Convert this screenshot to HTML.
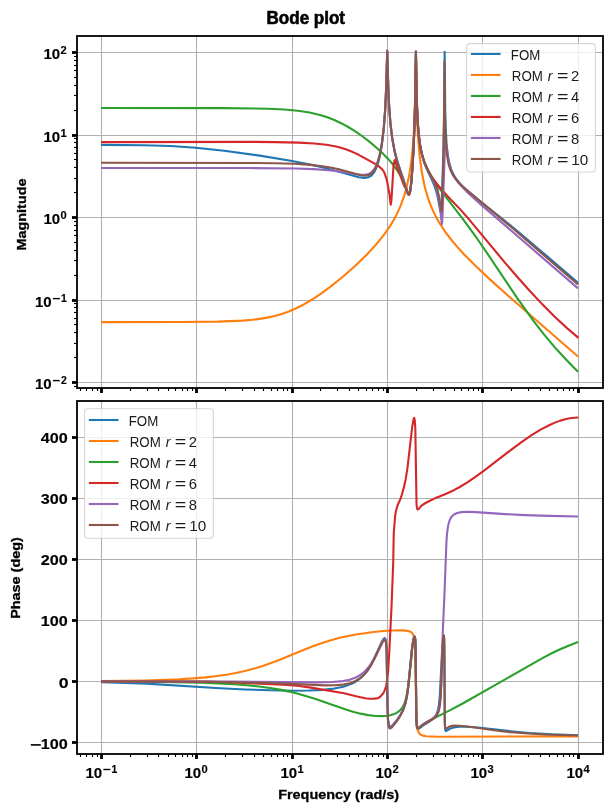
<!DOCTYPE html><html><head><meta charset="utf-8"><style>html,body{margin:0;padding:0;background:#fff;}svg{display:block;will-change:transform;}</style></head><body><svg width="611" height="811" viewBox="0 0 611 811">
<rect width="611" height="811" fill="#fff"/>
<text x="305.8" y="23.8" font-size="17.6" font-weight="bold" text-anchor="middle" font-family='"Liberation Sans", sans-serif' fill="#000" stroke="#000" stroke-width="0.6" textLength="78.5" lengthAdjust="spacingAndGlyphs">Bode plot</text>
<g>
<line x1="77" y1="382.50" x2="603" y2="382.50" stroke="#b0b0b0" stroke-width="1.1"/>
<line x1="77" y1="300.50" x2="603" y2="300.50" stroke="#b0b0b0" stroke-width="1.1"/>
<line x1="77" y1="217.50" x2="603" y2="217.50" stroke="#b0b0b0" stroke-width="1.1"/>
<line x1="77" y1="135.50" x2="603" y2="135.50" stroke="#b0b0b0" stroke-width="1.1"/>
<line x1="77" y1="52.50" x2="603" y2="52.50" stroke="#b0b0b0" stroke-width="1.1"/>
<line x1="101.50" y1="36" x2="101.50" y2="388" stroke="#b0b0b0" stroke-width="1.1"/>
<line x1="196.50" y1="36" x2="196.50" y2="388" stroke="#b0b0b0" stroke-width="1.1"/>
<line x1="292.50" y1="36" x2="292.50" y2="388" stroke="#b0b0b0" stroke-width="1.1"/>
<line x1="387.50" y1="36" x2="387.50" y2="388" stroke="#b0b0b0" stroke-width="1.1"/>
<line x1="482.50" y1="36" x2="482.50" y2="388" stroke="#b0b0b0" stroke-width="1.1"/>
<line x1="578.50" y1="36" x2="578.50" y2="388" stroke="#b0b0b0" stroke-width="1.1"/>
<line x1="80.50" y1="388" x2="80.50" y2="391" stroke="#000" stroke-width="1.1"/>
<line x1="86.50" y1="388" x2="86.50" y2="391" stroke="#000" stroke-width="1.1"/>
<line x1="92.50" y1="388" x2="92.50" y2="391" stroke="#000" stroke-width="1.1"/>
<line x1="97.50" y1="388" x2="97.50" y2="391" stroke="#000" stroke-width="1.1"/>
<line x1="101.50" y1="388" x2="101.50" y2="393" stroke="#000" stroke-width="2.8"/>
<line x1="130.50" y1="388" x2="130.50" y2="391" stroke="#000" stroke-width="1.1"/>
<line x1="147.50" y1="388" x2="147.50" y2="391" stroke="#000" stroke-width="1.1"/>
<line x1="158.50" y1="388" x2="158.50" y2="391" stroke="#000" stroke-width="1.1"/>
<line x1="168.50" y1="388" x2="168.50" y2="391" stroke="#000" stroke-width="1.1"/>
<line x1="175.50" y1="388" x2="175.50" y2="391" stroke="#000" stroke-width="1.1"/>
<line x1="182.50" y1="388" x2="182.50" y2="391" stroke="#000" stroke-width="1.1"/>
<line x1="187.50" y1="388" x2="187.50" y2="391" stroke="#000" stroke-width="1.1"/>
<line x1="192.50" y1="388" x2="192.50" y2="391" stroke="#000" stroke-width="1.1"/>
<line x1="196.50" y1="388" x2="196.50" y2="393" stroke="#000" stroke-width="2.8"/>
<line x1="225.50" y1="388" x2="225.50" y2="391" stroke="#000" stroke-width="1.1"/>
<line x1="242.50" y1="388" x2="242.50" y2="391" stroke="#000" stroke-width="1.1"/>
<line x1="254.50" y1="388" x2="254.50" y2="391" stroke="#000" stroke-width="1.1"/>
<line x1="263.50" y1="388" x2="263.50" y2="391" stroke="#000" stroke-width="1.1"/>
<line x1="271.50" y1="388" x2="271.50" y2="391" stroke="#000" stroke-width="1.1"/>
<line x1="277.50" y1="388" x2="277.50" y2="391" stroke="#000" stroke-width="1.1"/>
<line x1="283.50" y1="388" x2="283.50" y2="391" stroke="#000" stroke-width="1.1"/>
<line x1="287.50" y1="388" x2="287.50" y2="391" stroke="#000" stroke-width="1.1"/>
<line x1="292.50" y1="388" x2="292.50" y2="393" stroke="#000" stroke-width="2.8"/>
<line x1="320.50" y1="388" x2="320.50" y2="391" stroke="#000" stroke-width="1.1"/>
<line x1="337.50" y1="388" x2="337.50" y2="391" stroke="#000" stroke-width="1.1"/>
<line x1="349.50" y1="388" x2="349.50" y2="391" stroke="#000" stroke-width="1.1"/>
<line x1="358.50" y1="388" x2="358.50" y2="391" stroke="#000" stroke-width="1.1"/>
<line x1="366.50" y1="388" x2="366.50" y2="391" stroke="#000" stroke-width="1.1"/>
<line x1="372.50" y1="388" x2="372.50" y2="391" stroke="#000" stroke-width="1.1"/>
<line x1="378.50" y1="388" x2="378.50" y2="391" stroke="#000" stroke-width="1.1"/>
<line x1="383.50" y1="388" x2="383.50" y2="391" stroke="#000" stroke-width="1.1"/>
<line x1="387.50" y1="388" x2="387.50" y2="393" stroke="#000" stroke-width="2.8"/>
<line x1="416.50" y1="388" x2="416.50" y2="391" stroke="#000" stroke-width="1.1"/>
<line x1="433.50" y1="388" x2="433.50" y2="391" stroke="#000" stroke-width="1.1"/>
<line x1="445.50" y1="388" x2="445.50" y2="391" stroke="#000" stroke-width="1.1"/>
<line x1="454.50" y1="388" x2="454.50" y2="391" stroke="#000" stroke-width="1.1"/>
<line x1="461.50" y1="388" x2="461.50" y2="391" stroke="#000" stroke-width="1.1"/>
<line x1="468.50" y1="388" x2="468.50" y2="391" stroke="#000" stroke-width="1.1"/>
<line x1="473.50" y1="388" x2="473.50" y2="391" stroke="#000" stroke-width="1.1"/>
<line x1="478.50" y1="388" x2="478.50" y2="391" stroke="#000" stroke-width="1.1"/>
<line x1="482.50" y1="388" x2="482.50" y2="393" stroke="#000" stroke-width="2.8"/>
<line x1="511.50" y1="388" x2="511.50" y2="391" stroke="#000" stroke-width="1.1"/>
<line x1="528.50" y1="388" x2="528.50" y2="391" stroke="#000" stroke-width="1.1"/>
<line x1="540.50" y1="388" x2="540.50" y2="391" stroke="#000" stroke-width="1.1"/>
<line x1="549.50" y1="388" x2="549.50" y2="391" stroke="#000" stroke-width="1.1"/>
<line x1="557.50" y1="388" x2="557.50" y2="391" stroke="#000" stroke-width="1.1"/>
<line x1="563.50" y1="388" x2="563.50" y2="391" stroke="#000" stroke-width="1.1"/>
<line x1="569.50" y1="388" x2="569.50" y2="391" stroke="#000" stroke-width="1.1"/>
<line x1="573.50" y1="388" x2="573.50" y2="391" stroke="#000" stroke-width="1.1"/>
<line x1="578.50" y1="388" x2="578.50" y2="393" stroke="#000" stroke-width="2.8"/>
<line x1="74" y1="386.50" x2="77" y2="386.50" stroke="#000" stroke-width="1.1"/>
<line x1="72" y1="382.50" x2="77" y2="382.50" stroke="#000" stroke-width="2.8"/>
<line x1="74" y1="357.50" x2="77" y2="357.50" stroke="#000" stroke-width="1.1"/>
<line x1="74" y1="343.50" x2="77" y2="343.50" stroke="#000" stroke-width="1.1"/>
<line x1="74" y1="332.50" x2="77" y2="332.50" stroke="#000" stroke-width="1.1"/>
<line x1="74" y1="324.50" x2="77" y2="324.50" stroke="#000" stroke-width="1.1"/>
<line x1="74" y1="318.50" x2="77" y2="318.50" stroke="#000" stroke-width="1.1"/>
<line x1="74" y1="312.50" x2="77" y2="312.50" stroke="#000" stroke-width="1.1"/>
<line x1="74" y1="307.50" x2="77" y2="307.50" stroke="#000" stroke-width="1.1"/>
<line x1="74" y1="303.50" x2="77" y2="303.50" stroke="#000" stroke-width="1.1"/>
<line x1="72" y1="300.50" x2="77" y2="300.50" stroke="#000" stroke-width="2.8"/>
<line x1="74" y1="275.50" x2="77" y2="275.50" stroke="#000" stroke-width="1.1"/>
<line x1="74" y1="260.50" x2="77" y2="260.50" stroke="#000" stroke-width="1.1"/>
<line x1="74" y1="250.50" x2="77" y2="250.50" stroke="#000" stroke-width="1.1"/>
<line x1="74" y1="242.50" x2="77" y2="242.50" stroke="#000" stroke-width="1.1"/>
<line x1="74" y1="235.50" x2="77" y2="235.50" stroke="#000" stroke-width="1.1"/>
<line x1="74" y1="230.50" x2="77" y2="230.50" stroke="#000" stroke-width="1.1"/>
<line x1="74" y1="225.50" x2="77" y2="225.50" stroke="#000" stroke-width="1.1"/>
<line x1="74" y1="221.50" x2="77" y2="221.50" stroke="#000" stroke-width="1.1"/>
<line x1="72" y1="217.50" x2="77" y2="217.50" stroke="#000" stroke-width="2.8"/>
<line x1="74" y1="192.50" x2="77" y2="192.50" stroke="#000" stroke-width="1.1"/>
<line x1="74" y1="178.50" x2="77" y2="178.50" stroke="#000" stroke-width="1.1"/>
<line x1="74" y1="167.50" x2="77" y2="167.50" stroke="#000" stroke-width="1.1"/>
<line x1="74" y1="159.50" x2="77" y2="159.50" stroke="#000" stroke-width="1.1"/>
<line x1="74" y1="153.50" x2="77" y2="153.50" stroke="#000" stroke-width="1.1"/>
<line x1="74" y1="147.50" x2="77" y2="147.50" stroke="#000" stroke-width="1.1"/>
<line x1="74" y1="142.50" x2="77" y2="142.50" stroke="#000" stroke-width="1.1"/>
<line x1="74" y1="138.50" x2="77" y2="138.50" stroke="#000" stroke-width="1.1"/>
<line x1="72" y1="135.50" x2="77" y2="135.50" stroke="#000" stroke-width="2.8"/>
<line x1="74" y1="110.50" x2="77" y2="110.50" stroke="#000" stroke-width="1.1"/>
<line x1="74" y1="95.50" x2="77" y2="95.50" stroke="#000" stroke-width="1.1"/>
<line x1="74" y1="85.50" x2="77" y2="85.50" stroke="#000" stroke-width="1.1"/>
<line x1="74" y1="77.50" x2="77" y2="77.50" stroke="#000" stroke-width="1.1"/>
<line x1="74" y1="70.50" x2="77" y2="70.50" stroke="#000" stroke-width="1.1"/>
<line x1="74" y1="65.50" x2="77" y2="65.50" stroke="#000" stroke-width="1.1"/>
<line x1="74" y1="60.50" x2="77" y2="60.50" stroke="#000" stroke-width="1.1"/>
<line x1="74" y1="56.50" x2="77" y2="56.50" stroke="#000" stroke-width="1.1"/>
<line x1="72" y1="52.50" x2="77" y2="52.50" stroke="#000" stroke-width="2.8"/>
<text x="35.00" y="389.10" font-size="14.2" font-weight="bold" font-family='"Liberation Sans", sans-serif' fill="#000" stroke="#000" stroke-width="0.15" textLength="16.70" lengthAdjust="spacingAndGlyphs">10</text>
<rect x="52.90" y="379.90" width="6.9" height="1.4" fill="#000"/>
<text x="60.90" y="384.30" font-size="11" font-weight="bold" font-family='"Liberation Sans", sans-serif' fill="#000" stroke="#000" stroke-width="0.15" textLength="5.80" lengthAdjust="spacingAndGlyphs">2</text>
<text x="35.00" y="307.10" font-size="14.2" font-weight="bold" font-family='"Liberation Sans", sans-serif' fill="#000" stroke="#000" stroke-width="0.15" textLength="16.70" lengthAdjust="spacingAndGlyphs">10</text>
<rect x="52.90" y="297.90" width="6.9" height="1.4" fill="#000"/>
<text x="60.90" y="302.30" font-size="11" font-weight="bold" font-family='"Liberation Sans", sans-serif' fill="#000" stroke="#000" stroke-width="0.15" textLength="5.80" lengthAdjust="spacingAndGlyphs">1</text>
<text x="43.50" y="224.10" font-size="14.2" font-weight="bold" font-family='"Liberation Sans", sans-serif' fill="#000" stroke="#000" stroke-width="0.15" textLength="16.70" lengthAdjust="spacingAndGlyphs">10</text>
<text x="60.50" y="219.30" font-size="11" font-weight="bold" font-family='"Liberation Sans", sans-serif' fill="#000" stroke="#000" stroke-width="0.15" textLength="6.20" lengthAdjust="spacingAndGlyphs">0</text>
<text x="43.50" y="142.10" font-size="14.2" font-weight="bold" font-family='"Liberation Sans", sans-serif' fill="#000" stroke="#000" stroke-width="0.15" textLength="16.70" lengthAdjust="spacingAndGlyphs">10</text>
<text x="60.50" y="137.30" font-size="11" font-weight="bold" font-family='"Liberation Sans", sans-serif' fill="#000" stroke="#000" stroke-width="0.15" textLength="6.20" lengthAdjust="spacingAndGlyphs">1</text>
<text x="43.50" y="59.10" font-size="14.2" font-weight="bold" font-family='"Liberation Sans", sans-serif' fill="#000" stroke="#000" stroke-width="0.15" textLength="16.70" lengthAdjust="spacingAndGlyphs">10</text>
<text x="60.50" y="54.30" font-size="11" font-weight="bold" font-family='"Liberation Sans", sans-serif' fill="#000" stroke="#000" stroke-width="0.15" textLength="6.20" lengthAdjust="spacingAndGlyphs">2</text>
<text transform="translate(25.7,214.5) rotate(-90)" x="0" y="0" font-size="13.6" font-weight="bold" text-anchor="middle" font-family='"Liberation Sans", sans-serif' fill="#000" stroke="#000" stroke-width="0.3" textLength="72" lengthAdjust="spacingAndGlyphs">Magnitude</text>
</g>
<line x1="77" y1="742.50" x2="603" y2="742.50" stroke="#b0b0b0" stroke-width="1.1"/>
<line x1="77" y1="681.50" x2="603" y2="681.50" stroke="#b0b0b0" stroke-width="1.1"/>
<line x1="77" y1="620.50" x2="603" y2="620.50" stroke="#b0b0b0" stroke-width="1.1"/>
<line x1="77" y1="559.50" x2="603" y2="559.50" stroke="#b0b0b0" stroke-width="1.1"/>
<line x1="77" y1="498.50" x2="603" y2="498.50" stroke="#b0b0b0" stroke-width="1.1"/>
<line x1="77" y1="437.50" x2="603" y2="437.50" stroke="#b0b0b0" stroke-width="1.1"/>
<line x1="101.50" y1="401" x2="101.50" y2="754" stroke="#b0b0b0" stroke-width="1.1"/>
<line x1="196.50" y1="401" x2="196.50" y2="754" stroke="#b0b0b0" stroke-width="1.1"/>
<line x1="292.50" y1="401" x2="292.50" y2="754" stroke="#b0b0b0" stroke-width="1.1"/>
<line x1="387.50" y1="401" x2="387.50" y2="754" stroke="#b0b0b0" stroke-width="1.1"/>
<line x1="482.50" y1="401" x2="482.50" y2="754" stroke="#b0b0b0" stroke-width="1.1"/>
<line x1="578.50" y1="401" x2="578.50" y2="754" stroke="#b0b0b0" stroke-width="1.1"/>
<line x1="80.50" y1="754" x2="80.50" y2="757" stroke="#000" stroke-width="1.1"/>
<line x1="86.50" y1="754" x2="86.50" y2="757" stroke="#000" stroke-width="1.1"/>
<line x1="92.50" y1="754" x2="92.50" y2="757" stroke="#000" stroke-width="1.1"/>
<line x1="97.50" y1="754" x2="97.50" y2="757" stroke="#000" stroke-width="1.1"/>
<line x1="101.50" y1="754" x2="101.50" y2="759" stroke="#000" stroke-width="2.8"/>
<line x1="130.50" y1="754" x2="130.50" y2="757" stroke="#000" stroke-width="1.1"/>
<line x1="147.50" y1="754" x2="147.50" y2="757" stroke="#000" stroke-width="1.1"/>
<line x1="158.50" y1="754" x2="158.50" y2="757" stroke="#000" stroke-width="1.1"/>
<line x1="168.50" y1="754" x2="168.50" y2="757" stroke="#000" stroke-width="1.1"/>
<line x1="175.50" y1="754" x2="175.50" y2="757" stroke="#000" stroke-width="1.1"/>
<line x1="182.50" y1="754" x2="182.50" y2="757" stroke="#000" stroke-width="1.1"/>
<line x1="187.50" y1="754" x2="187.50" y2="757" stroke="#000" stroke-width="1.1"/>
<line x1="192.50" y1="754" x2="192.50" y2="757" stroke="#000" stroke-width="1.1"/>
<line x1="196.50" y1="754" x2="196.50" y2="759" stroke="#000" stroke-width="2.8"/>
<line x1="225.50" y1="754" x2="225.50" y2="757" stroke="#000" stroke-width="1.1"/>
<line x1="242.50" y1="754" x2="242.50" y2="757" stroke="#000" stroke-width="1.1"/>
<line x1="254.50" y1="754" x2="254.50" y2="757" stroke="#000" stroke-width="1.1"/>
<line x1="263.50" y1="754" x2="263.50" y2="757" stroke="#000" stroke-width="1.1"/>
<line x1="271.50" y1="754" x2="271.50" y2="757" stroke="#000" stroke-width="1.1"/>
<line x1="277.50" y1="754" x2="277.50" y2="757" stroke="#000" stroke-width="1.1"/>
<line x1="283.50" y1="754" x2="283.50" y2="757" stroke="#000" stroke-width="1.1"/>
<line x1="287.50" y1="754" x2="287.50" y2="757" stroke="#000" stroke-width="1.1"/>
<line x1="292.50" y1="754" x2="292.50" y2="759" stroke="#000" stroke-width="2.8"/>
<line x1="320.50" y1="754" x2="320.50" y2="757" stroke="#000" stroke-width="1.1"/>
<line x1="337.50" y1="754" x2="337.50" y2="757" stroke="#000" stroke-width="1.1"/>
<line x1="349.50" y1="754" x2="349.50" y2="757" stroke="#000" stroke-width="1.1"/>
<line x1="358.50" y1="754" x2="358.50" y2="757" stroke="#000" stroke-width="1.1"/>
<line x1="366.50" y1="754" x2="366.50" y2="757" stroke="#000" stroke-width="1.1"/>
<line x1="372.50" y1="754" x2="372.50" y2="757" stroke="#000" stroke-width="1.1"/>
<line x1="378.50" y1="754" x2="378.50" y2="757" stroke="#000" stroke-width="1.1"/>
<line x1="383.50" y1="754" x2="383.50" y2="757" stroke="#000" stroke-width="1.1"/>
<line x1="387.50" y1="754" x2="387.50" y2="759" stroke="#000" stroke-width="2.8"/>
<line x1="416.50" y1="754" x2="416.50" y2="757" stroke="#000" stroke-width="1.1"/>
<line x1="433.50" y1="754" x2="433.50" y2="757" stroke="#000" stroke-width="1.1"/>
<line x1="445.50" y1="754" x2="445.50" y2="757" stroke="#000" stroke-width="1.1"/>
<line x1="454.50" y1="754" x2="454.50" y2="757" stroke="#000" stroke-width="1.1"/>
<line x1="461.50" y1="754" x2="461.50" y2="757" stroke="#000" stroke-width="1.1"/>
<line x1="468.50" y1="754" x2="468.50" y2="757" stroke="#000" stroke-width="1.1"/>
<line x1="473.50" y1="754" x2="473.50" y2="757" stroke="#000" stroke-width="1.1"/>
<line x1="478.50" y1="754" x2="478.50" y2="757" stroke="#000" stroke-width="1.1"/>
<line x1="482.50" y1="754" x2="482.50" y2="759" stroke="#000" stroke-width="2.8"/>
<line x1="511.50" y1="754" x2="511.50" y2="757" stroke="#000" stroke-width="1.1"/>
<line x1="528.50" y1="754" x2="528.50" y2="757" stroke="#000" stroke-width="1.1"/>
<line x1="540.50" y1="754" x2="540.50" y2="757" stroke="#000" stroke-width="1.1"/>
<line x1="549.50" y1="754" x2="549.50" y2="757" stroke="#000" stroke-width="1.1"/>
<line x1="557.50" y1="754" x2="557.50" y2="757" stroke="#000" stroke-width="1.1"/>
<line x1="563.50" y1="754" x2="563.50" y2="757" stroke="#000" stroke-width="1.1"/>
<line x1="569.50" y1="754" x2="569.50" y2="757" stroke="#000" stroke-width="1.1"/>
<line x1="573.50" y1="754" x2="573.50" y2="757" stroke="#000" stroke-width="1.1"/>
<line x1="578.50" y1="754" x2="578.50" y2="759" stroke="#000" stroke-width="2.8"/>
<text x="85.50" y="778.00" font-size="14.2" font-weight="bold" font-family='"Liberation Sans", sans-serif' fill="#000" stroke="#000" stroke-width="0.15" textLength="16.70" lengthAdjust="spacingAndGlyphs">10</text>
<rect x="103.40" y="768.80" width="6.9" height="1.4" fill="#000"/>
<text x="111.40" y="773.20" font-size="11" font-weight="bold" font-family='"Liberation Sans", sans-serif' fill="#000" stroke="#000" stroke-width="0.15" textLength="5.80" lengthAdjust="spacingAndGlyphs">1</text>
<text x="184.40" y="778.00" font-size="14.2" font-weight="bold" font-family='"Liberation Sans", sans-serif' fill="#000" stroke="#000" stroke-width="0.15" textLength="16.70" lengthAdjust="spacingAndGlyphs">10</text>
<text x="201.40" y="773.20" font-size="11" font-weight="bold" font-family='"Liberation Sans", sans-serif' fill="#000" stroke="#000" stroke-width="0.15" textLength="6.20" lengthAdjust="spacingAndGlyphs">0</text>
<text x="280.40" y="778.00" font-size="14.2" font-weight="bold" font-family='"Liberation Sans", sans-serif' fill="#000" stroke="#000" stroke-width="0.15" textLength="16.70" lengthAdjust="spacingAndGlyphs">10</text>
<text x="297.40" y="773.20" font-size="11" font-weight="bold" font-family='"Liberation Sans", sans-serif' fill="#000" stroke="#000" stroke-width="0.15" textLength="6.20" lengthAdjust="spacingAndGlyphs">1</text>
<text x="375.40" y="778.00" font-size="14.2" font-weight="bold" font-family='"Liberation Sans", sans-serif' fill="#000" stroke="#000" stroke-width="0.15" textLength="16.70" lengthAdjust="spacingAndGlyphs">10</text>
<text x="392.40" y="773.20" font-size="11" font-weight="bold" font-family='"Liberation Sans", sans-serif' fill="#000" stroke="#000" stroke-width="0.15" textLength="6.20" lengthAdjust="spacingAndGlyphs">2</text>
<text x="470.40" y="778.00" font-size="14.2" font-weight="bold" font-family='"Liberation Sans", sans-serif' fill="#000" stroke="#000" stroke-width="0.15" textLength="16.70" lengthAdjust="spacingAndGlyphs">10</text>
<text x="487.40" y="773.20" font-size="11" font-weight="bold" font-family='"Liberation Sans", sans-serif' fill="#000" stroke="#000" stroke-width="0.15" textLength="6.20" lengthAdjust="spacingAndGlyphs">3</text>
<text x="566.40" y="778.00" font-size="14.2" font-weight="bold" font-family='"Liberation Sans", sans-serif' fill="#000" stroke="#000" stroke-width="0.15" textLength="16.70" lengthAdjust="spacingAndGlyphs">10</text>
<text x="583.40" y="773.20" font-size="11" font-weight="bold" font-family='"Liberation Sans", sans-serif' fill="#000" stroke="#000" stroke-width="0.15" textLength="6.20" lengthAdjust="spacingAndGlyphs">4</text>
<line x1="72" y1="742.50" x2="77" y2="742.50" stroke="#000" stroke-width="2.8"/>
<text x="40.70" y="748.90" font-size="14.2" font-weight="bold" font-family='"Liberation Sans", sans-serif' fill="#000" stroke="#000" stroke-width="0.15" textLength="27.00" lengthAdjust="spacingAndGlyphs">100</text>
<rect x="30.8" y="744.10" width="10" height="1.6" fill="#000"/>
<line x1="72" y1="681.50" x2="77" y2="681.50" stroke="#000" stroke-width="2.8"/>
<text x="58.80" y="687.60" font-size="14.2" font-weight="bold" font-family='"Liberation Sans", sans-serif' fill="#000" stroke="#000" stroke-width="0.15" textLength="9.80" lengthAdjust="spacingAndGlyphs">0</text>
<line x1="72" y1="620.50" x2="77" y2="620.50" stroke="#000" stroke-width="2.8"/>
<text x="40.70" y="625.80" font-size="14.2" font-weight="bold" font-family='"Liberation Sans", sans-serif' fill="#000" stroke="#000" stroke-width="0.15" textLength="27.00" lengthAdjust="spacingAndGlyphs">100</text>
<line x1="72" y1="559.50" x2="77" y2="559.50" stroke="#000" stroke-width="2.8"/>
<text x="40.70" y="564.80" font-size="14.2" font-weight="bold" font-family='"Liberation Sans", sans-serif' fill="#000" stroke="#000" stroke-width="0.15" textLength="27.00" lengthAdjust="spacingAndGlyphs">200</text>
<line x1="72" y1="498.50" x2="77" y2="498.50" stroke="#000" stroke-width="2.8"/>
<text x="40.70" y="503.80" font-size="14.2" font-weight="bold" font-family='"Liberation Sans", sans-serif' fill="#000" stroke="#000" stroke-width="0.15" textLength="27.00" lengthAdjust="spacingAndGlyphs">300</text>
<line x1="72" y1="437.50" x2="77" y2="437.50" stroke="#000" stroke-width="2.8"/>
<text x="40.70" y="442.80" font-size="14.2" font-weight="bold" font-family='"Liberation Sans", sans-serif' fill="#000" stroke="#000" stroke-width="0.15" textLength="27.00" lengthAdjust="spacingAndGlyphs">400</text>
<text transform="translate(20,578) rotate(-90)" x="0" y="0" font-size="13.6" font-weight="bold" text-anchor="middle" font-family='"Liberation Sans", sans-serif' fill="#000" stroke="#000" stroke-width="0.3" textLength="81.5" lengthAdjust="spacingAndGlyphs">Phase (deg)</text>
<text x="338.7" y="798.7" font-size="13.6" font-weight="bold" text-anchor="middle" font-family='"Liberation Sans", sans-serif' fill="#000" stroke="#000" stroke-width="0.3" textLength="121" lengthAdjust="spacingAndGlyphs">Frequency (rad/s)</text>
<clipPath id="ct"><rect x="77" y="36" width="526" height="352"/></clipPath>
<g clip-path="url(#ct)" fill="none" stroke-width="2.1" stroke-linejoin="round" stroke-linecap="butt">
<path d="M101.00,144.90 L143.15,145.21 L170.82,146.03 L195.64,147.72 L224.11,150.76 L259.73,155.60 L292.02,160.96 L308.88,164.29 L323.99,167.71 L335.44,170.65 L358.82,177.19 L364.23,177.91 L366.30,177.79 L368.21,177.35 L370.59,176.15 L372.66,174.24 L374.41,171.77 L376.16,168.25 L377.75,163.87 L379.25,158.47 L380.60,152.15 L381.82,144.98 L383.74,129.06 L385.18,109.79 L386.10,89.34 L387.21,51.27 L388.27,87.27 L389.13,106.07 L390.46,123.60 L392.26,138.20 L394.50,150.26 L397.48,161.56 L407.19,190.63 L408.25,193.06 L408.67,193.58 L409.05,193.68 L409.65,192.88 L410.20,190.83 L411.30,182.49 L412.54,166.80 L413.69,146.65 L415.03,108.31 L415.92,51.49 L416.55,90.81 L417.22,113.00 L418.31,131.05 L419.90,144.93 L421.74,154.38 L424.20,162.70 L426.90,169.40 L433.26,182.89 L435.97,190.18 L437.77,197.14 L440.06,210.18 L440.65,211.92 L440.96,211.12 L441.25,208.75 L441.85,198.46 L443.43,151.01 L444.16,110.99 L444.64,51.74 L445.27,112.18 L445.80,130.16 L446.55,143.59 L447.66,154.34 L449.18,162.77 L451.27,169.67 L454.10,175.63 L456.64,179.50 L459.66,183.21 L463.48,187.17 L468.41,191.66 L476.37,198.23 L502.61,219.04 L518.83,232.35 L542.69,252.48 L578.00,282.81" stroke="#1f77b4"/>
<path d="M101.00,322.10 L181.48,322.02 L217.59,321.64 L242.72,320.60 L252.58,319.75 L261.48,318.60 L270.71,316.90 L279.30,314.71 L287.57,311.95 L295.68,308.56 L303.79,304.47 L312.22,299.51 L320.97,293.69 L330.20,286.90 L342.76,276.76 L355.33,265.68 L366.46,254.92 L376.00,244.65 L383.71,235.20 L390.22,225.87 L395.70,216.41 L400.28,206.59 L404.00,196.44 L406.99,185.74 L409.45,173.86 L411.41,160.61 L412.84,146.57 L413.93,130.46 L415.77,80.32 L416.98,117.19 L417.97,136.84 L419.52,155.40 L421.63,171.25 L424.51,185.69 L426.26,192.32 L428.33,198.92 L430.56,204.97 L433.10,210.94 L435.89,216.63 L438.96,222.18 L445.67,232.49 L453.78,242.92 L463.64,253.94 L475.73,266.10 L489.88,279.36 L508.65,296.20 L578.00,356.57" stroke="#ff7f0e"/>
<path d="M101.00,108.05 L224.27,108.14 L267.85,108.72 L284.23,109.49 L297.75,110.72 L309.52,112.53 L320.02,114.98 L327.33,117.29 L334.33,120.01 L341.17,123.19 L348.17,126.99 L355.33,131.42 L362.64,136.50 L369.96,142.12 L377.12,148.18 L382.96,153.61 L388.13,158.92 L392.58,164.05 L396.35,169.07 L399.10,173.33 L401.51,177.71 L404.00,183.15 L407.55,192.27 L408.29,193.59 L408.91,193.95 L409.52,193.22 L410.08,191.26 L411.20,183.03 L412.44,167.58 L413.62,147.33 L415.00,108.92 L415.92,51.63 L416.95,105.31 L417.69,121.66 L418.70,134.69 L420.13,145.72 L422.03,154.99 L424.51,163.03 L427.85,170.67 L431.99,177.94 L437.37,185.84 L462.37,218.31 L476.68,237.99 L488.29,254.88 L517.08,297.86 L533.47,320.88 L543.96,334.44 L554.62,347.13 L565.75,359.33 L578.00,371.77" stroke="#2ca02c"/>
<path d="M101.00,142.10 L255.06,141.90 L275.09,142.11 L298.78,142.67 L314.35,143.43 L326.53,144.81 L336.08,146.47 L340.93,147.66 L345.77,149.28 L352.31,151.85 L358.73,154.82 L375.61,164.13 L378.75,166.29 L381.76,168.91 L383.33,170.85 L384.38,172.68 L386.87,180.24 L389.36,193.56 L390.70,204.70 L391.19,201.94 L391.84,193.83 L393.41,167.45 L394.07,162.47 L394.72,160.03 L394.98,160.10 L395.38,160.88 L396.95,166.85 L400.22,174.98 L403.23,183.60 L404.40,186.20 L405.90,188.36 L407.81,193.57 L408.47,194.56 L409.12,194.52 L409.78,193.03 L410.30,190.50 L411.21,183.07 L412.13,172.15 L413.96,140.09 L414.93,111.77 L415.67,67.36 L416.06,57.94 L416.45,85.63 L417.11,109.87 L417.94,125.79 L419.20,139.25 L420.77,149.21 L423.00,158.04 L425.47,164.67 L430.30,174.87 L435.87,182.47 L441.44,189.31 L447.39,195.92 L460.01,209.14 L466.33,216.19 L505.33,263.07 L517.59,277.31 L528.73,289.80 L542.10,304.10 L554.73,316.75 L566.99,328.12 L578.50,337.85" stroke="#d62728"/>
<path d="M101.00,168.00 L248.60,168.05 L295.20,168.47 L313.65,169.12 L328.60,170.21 L339.74,171.53 L356.28,174.26 L361.05,174.84 L365.35,174.81 L368.69,173.98 L371.07,172.61 L373.14,170.61 L375.05,167.80 L376.64,164.50 L378.19,160.21 L379.61,155.05 L382.04,142.21 L383.89,126.66 L385.27,107.89 L386.15,87.85 L387.22,50.21 L388.27,86.61 L389.12,105.70 L390.44,123.50 L392.24,138.43 L394.47,150.63 L397.40,161.99 L407.15,191.81 L408.18,194.21 L408.59,194.70 L408.96,194.78 L409.56,193.91 L410.11,191.76 L411.21,183.10 L412.48,166.89 L413.65,146.33 L415.01,108.10 L415.92,51.84 L416.55,90.14 L417.21,111.84 L418.27,129.51 L419.80,143.20 L421.67,152.96 L424.20,161.43 L427.06,168.31 L434.22,182.87 L435.89,187.15 L437.24,191.52 L438.49,196.91 L439.52,203.09 L441.81,224.19 L442.16,222.33 L442.52,215.51 L444.77,152.09 L445.22,144.86 L445.68,142.72 L446.13,144.46 L448.46,160.16 L449.63,165.18 L451.01,169.59 L452.83,173.88 L455.21,178.15 L458.07,182.20 L461.57,186.34 L468.89,193.71 L480.18,203.88 L578.00,288.34" stroke="#9467bd"/>
<path d="M101.00,162.82 L247.17,162.93 L274.69,163.22 L294.41,163.82 L310.63,164.88 L324.31,166.49 L331.79,167.77 L338.94,169.31 L360.73,175.18 L365.35,175.63 L367.25,175.42 L368.85,174.96 L371.07,173.73 L373.14,171.71 L374.89,169.11 L376.64,165.43 L378.18,161.06 L379.59,155.79 L382.04,142.70 L383.88,127.19 L385.26,108.42 L386.13,88.74 L387.23,51.05 L388.29,87.22 L389.15,106.46 L390.48,124.18 L392.29,139.09 L394.59,151.63 L397.64,163.37 L406.95,191.46 L408.06,194.03 L408.50,194.57 L408.91,194.66 L409.52,193.82 L410.08,191.70 L411.21,183.11 L412.48,167.20 L413.65,146.82 L415.01,108.66 L415.92,51.48 L416.55,90.64 L417.23,112.90 L418.34,130.93 L419.95,144.64 L421.90,154.21 L424.51,162.36 L427.38,168.70 L434.38,181.59 L437.10,188.40 L439.12,196.67 L441.37,211.66 L441.60,211.32 L441.82,209.52 L442.24,201.12 L443.39,157.54 L444.00,118.25 L444.43,61.38 L445.02,117.92 L445.48,134.30 L446.15,146.52 L447.12,156.18 L448.46,163.68 L450.31,169.74 L452.83,174.93 L455.05,178.25 L457.76,181.50 L461.10,184.92 L465.39,188.84 L511.20,227.05 L578.00,284.51" stroke="#8c564b"/>
</g>
<clipPath id="cb"><rect x="77" y="401" width="526" height="353"/></clipPath>
<g clip-path="url(#cb)" fill="none" stroke-width="2.1" stroke-linejoin="round" stroke-linecap="butt">
<path d="M101.00,682.25 L125.18,682.83 L146.49,683.66 L219.97,688.25 L245.26,689.43 L270.23,690.29 L292.02,690.68 L309.36,690.54 L323.20,689.84 L334.33,688.58 L343.40,686.69 L350.87,684.11 L354.21,682.48 L357.23,680.64 L360.10,678.50 L362.64,676.18 L366.62,671.56 L370.28,665.97 L374.09,658.63 L381.70,641.88 L383.50,638.94 L384.18,638.27 L384.75,638.10 L385.43,638.82 L385.93,640.75 L386.59,649.27 L387.54,705.11 L387.99,718.58 L388.79,725.05 L389.40,726.38 L390.25,726.72 L391.63,725.95 L393.78,723.76 L397.35,719.45 L400.09,715.63 L403.20,709.92 L405.43,703.53 L406.95,696.67 L408.25,687.89 L412.46,646.49 L413.62,639.93 L414.16,638.15 L414.62,637.59 L414.98,638.28 L415.26,640.27 L415.60,648.80 L416.36,720.92 L416.89,727.50 L417.33,728.81 L417.99,729.16 L418.98,728.65 L423.56,725.09 L430.56,720.75 L433.26,718.69 L434.69,717.17 L435.93,715.35 L436.91,713.27 L437.73,710.80 L438.88,705.09 L439.76,696.96 L442.24,647.78 L443.03,639.02 L443.45,636.48 L443.84,635.58 L444.25,638.27 L444.46,647.14 L444.87,722.08 L445.16,728.79 L445.40,730.28 L445.74,730.93 L446.42,730.88 L450.29,728.49 L453.78,727.40 L459.03,726.75 L465.87,726.70 L477.96,727.56 L510.56,731.23 L529.65,732.96 L552.07,734.33 L578.00,735.27" stroke="#1f77b4"/>
<path d="M101.00,681.16 L145.85,680.51 L178.94,679.30 L192.93,678.42 L205.50,677.34 L217.11,676.01 L227.77,674.44 L236.99,672.75 L245.74,670.81 L254.33,668.55 L262.76,665.97 L277.87,660.50 L304.59,649.47 L315.56,645.22 L327.65,641.14 L339.58,637.84 L355.80,634.46 L373.46,631.99 L383.39,631.06 L392.87,630.48 L400.53,630.32 L405.90,630.59 L409.61,631.39 L410.91,632.03 L411.94,632.87 L412.74,633.95 L413.39,635.36 L414.31,639.39 L414.87,645.34 L415.26,654.43 L416.12,706.21 L416.70,722.02 L417.22,727.28 L417.97,730.82 L419.08,733.16 L420.74,734.71 L422.93,735.63 L426.10,736.22 L437.24,736.71 L578.00,736.38" stroke="#ff7f0e"/>
<path d="M101.00,681.61 L161.60,681.98 L202.48,682.78 L233.97,684.24 L247.17,685.25 L259.26,686.51 L269.91,687.94 L279.93,689.63 L289.48,691.60 L298.86,693.92 L314.93,698.76 L346.58,709.77 L353.89,711.96 L360.57,713.65 L368.21,715.12 L375.37,715.96 L381.89,716.14 L387.70,715.68 L391.07,715.03 L394.04,714.11 L396.62,712.91 L398.85,711.42 L400.76,709.61 L402.41,707.43 L403.84,704.77 L404.95,701.95 L406.38,696.74 L407.72,689.30 L408.96,679.23 L412.15,647.15 L413.44,639.37 L414.06,637.21 L414.59,636.50 L414.95,637.16 L415.23,639.15 L415.59,647.71 L416.37,719.94 L416.91,726.45 L417.35,727.75 L418.00,728.12 L419.08,727.60 L424.35,723.59 L428.33,721.16 L450.69,709.89 L463.16,703.22 L543.33,657.66 L552.71,652.79 L561.30,648.72 L569.73,645.16 L578.00,642.11" stroke="#2ca02c"/>
<path d="M101.00,681.50 L205.86,681.59 L226.21,682.20 L283.32,684.67 L297.43,685.73 L310.99,687.65 L344.09,693.22 L356.03,696.22 L366.48,698.47 L369.19,698.70 L373.80,698.60 L377.19,698.38 L378.55,697.91 L380.58,696.34 L382.90,693.70 L383.97,691.95 L384.92,689.71 L386.01,686.27 L386.69,683.11 L388.04,672.48 L389.27,652.44 L391.57,605.92 L393.20,563.01 L393.74,533.17 L395.10,516.42 L395.78,512.08 L396.73,508.06 L397.95,504.45 L400.25,499.39 L401.75,494.99 L403.92,487.15 L405.68,479.18 L407.44,468.19 L412.19,427.00 L413.41,420.09 L414.09,417.95 L414.36,418.12 L414.77,420.50 L415.31,428.26 L416.53,504.18 L416.94,507.71 L417.21,508.88 L417.60,509.50 L418.84,508.80 L421.55,505.52 L425.48,503.00 L436.34,497.66 L446.24,493.77 L452.14,491.08 L459.77,487.00 L467.75,482.10 L475.03,477.18 L483.36,471.16 L511.11,449.84 L521.51,442.11 L531.57,435.19 L540.59,429.65 L550.65,424.45 L555.51,422.38 L560.36,420.63 L565.22,419.24 L569.73,418.29 L574.24,417.69 L578.40,417.47" stroke="#d62728"/>
<path d="M101.00,681.51 L231.42,681.67 L317.79,682.38 L332.42,682.06 L342.92,681.08 L349.76,679.68 L355.64,677.60 L360.73,674.74 L365.19,671.02 L368.53,667.22 L371.71,662.59 L375.21,656.32 L382.13,642.21 L383.70,639.82 L384.30,639.29 L384.80,639.16 L385.48,639.87 L385.97,641.80 L386.62,650.39 L387.54,706.03 L387.99,719.63 L388.75,725.97 L389.33,727.30 L390.13,727.65 L391.43,726.87 L393.45,724.67 L397.14,719.90 L399.97,715.76 L403.04,709.92 L405.27,703.44 L406.80,696.45 L408.10,687.52 L412.30,645.55 L413.51,638.69 L414.08,636.84 L414.58,636.24 L414.95,636.96 L415.23,639.01 L415.59,647.74 L416.40,720.09 L417.00,726.54 L417.53,727.67 L418.33,727.78 L424.04,723.77 L431.67,719.21 L434.85,716.54 L436.54,714.29 L437.85,711.61 L438.88,708.32 L439.69,704.19 L440.60,695.97 L441.28,684.04 L442.87,629.79 L444.42,595.35 L446.48,540.95 L447.26,531.66 L448.26,525.04 L449.63,520.24 L451.49,516.79 L453.94,514.47 L457.12,512.97 L461.41,512.10 L467.14,511.81 L475.89,512.10 L504.99,514.11 L525.19,515.15 L549.05,515.92 L578.00,516.43" stroke="#9467bd"/>
<path d="M101.00,681.53 L178.14,681.67 L226.17,682.03 L270.71,683.00 L324.63,685.37 L335.13,685.31 L343.24,684.58 L349.76,683.19 L355.48,680.99 L360.42,677.96 L364.71,674.08 L367.89,670.21 L371.07,665.34 L374.57,658.80 L381.86,643.49 L383.58,640.78 L384.24,640.16 L384.78,640.02 L385.46,640.73 L385.96,642.67 L386.62,651.13 L387.55,706.98 L388.00,720.41 L388.77,726.78 L389.36,728.13 L390.17,728.48 L391.51,727.67 L393.58,725.39 L397.01,720.86 L399.81,716.63 L403.04,710.31 L405.27,703.63 L406.80,696.56 L408.10,687.66 L412.35,646.05 L413.55,639.27 L414.12,637.39 L414.60,636.78 L414.96,637.44 L415.23,639.35 L415.59,647.85 L416.36,720.08 L416.89,726.63 L417.33,727.94 L417.98,728.28 L418.91,727.82 L424.51,723.54 L432.47,719.21 L434.85,717.59 L436.19,716.29 L437.26,714.80 L438.85,710.88 L439.94,705.12 L440.73,696.50 L442.63,647.05 L443.18,638.75 L443.75,635.50 L444.08,638.08 L444.26,646.91 L444.65,719.72 L444.92,726.47 L445.14,727.98 L445.47,728.67 L446.04,728.63 L448.97,726.82 L451.29,726.08 L454.73,725.65 L459.03,725.68 L467.78,726.56 L497.68,730.82 L517.24,732.82 L544.28,734.50 L578.00,735.53" stroke="#8c564b"/>
</g>
<rect x="466.6" y="43.6" width="128.8" height="128.4" rx="3.5" ry="3.5" fill="#fff" fill-opacity="0.8" stroke="#cccccc" stroke-opacity="0.8" stroke-width="1.1"/>
<line x1="470.90" y1="53.95" x2="500.60" y2="53.95" stroke="#1f77b4" stroke-width="2.1"/>
<text x="510.80" y="59.60" font-size="14.2" font-family='"Liberation Sans", sans-serif' fill="#1a1a1a" textLength="29.5" lengthAdjust="spacingAndGlyphs">FOM</text>
<line x1="470.90" y1="74.95" x2="500.60" y2="74.95" stroke="#ff7f0e" stroke-width="2.1"/>
<text x="511.80" y="80.60" font-size="14.2" font-family='"Liberation Sans", sans-serif' fill="#1a1a1a" textLength="31.0" lengthAdjust="spacingAndGlyphs">ROM</text>
<text x="547.80" y="80.60" font-size="14.2" font-family='"Liberation Sans", sans-serif' fill="#1a1a1a" font-style="italic">r</text>
<text x="556.90" y="80.60" font-size="14.2" font-family='"Liberation Sans", sans-serif' fill="#1a1a1a" textLength="11.5" lengthAdjust="spacingAndGlyphs">=</text>
<text x="570.90" y="80.60" font-size="14.2" font-family='"Liberation Sans", sans-serif' fill="#1a1a1a" textLength="8.2" lengthAdjust="spacingAndGlyphs">2</text>
<line x1="470.90" y1="95.95" x2="500.60" y2="95.95" stroke="#2ca02c" stroke-width="2.1"/>
<text x="511.80" y="101.60" font-size="14.2" font-family='"Liberation Sans", sans-serif' fill="#1a1a1a" textLength="31.0" lengthAdjust="spacingAndGlyphs">ROM</text>
<text x="547.80" y="101.60" font-size="14.2" font-family='"Liberation Sans", sans-serif' fill="#1a1a1a" font-style="italic">r</text>
<text x="556.90" y="101.60" font-size="14.2" font-family='"Liberation Sans", sans-serif' fill="#1a1a1a" textLength="11.5" lengthAdjust="spacingAndGlyphs">=</text>
<text x="570.90" y="101.60" font-size="14.2" font-family='"Liberation Sans", sans-serif' fill="#1a1a1a" textLength="8.2" lengthAdjust="spacingAndGlyphs">4</text>
<line x1="470.90" y1="116.95" x2="500.60" y2="116.95" stroke="#d62728" stroke-width="2.1"/>
<text x="511.80" y="122.60" font-size="14.2" font-family='"Liberation Sans", sans-serif' fill="#1a1a1a" textLength="31.0" lengthAdjust="spacingAndGlyphs">ROM</text>
<text x="547.80" y="122.60" font-size="14.2" font-family='"Liberation Sans", sans-serif' fill="#1a1a1a" font-style="italic">r</text>
<text x="556.90" y="122.60" font-size="14.2" font-family='"Liberation Sans", sans-serif' fill="#1a1a1a" textLength="11.5" lengthAdjust="spacingAndGlyphs">=</text>
<text x="570.90" y="122.60" font-size="14.2" font-family='"Liberation Sans", sans-serif' fill="#1a1a1a" textLength="8.2" lengthAdjust="spacingAndGlyphs">6</text>
<line x1="470.90" y1="137.95" x2="500.60" y2="137.95" stroke="#9467bd" stroke-width="2.1"/>
<text x="511.80" y="143.60" font-size="14.2" font-family='"Liberation Sans", sans-serif' fill="#1a1a1a" textLength="31.0" lengthAdjust="spacingAndGlyphs">ROM</text>
<text x="547.80" y="143.60" font-size="14.2" font-family='"Liberation Sans", sans-serif' fill="#1a1a1a" font-style="italic">r</text>
<text x="556.90" y="143.60" font-size="14.2" font-family='"Liberation Sans", sans-serif' fill="#1a1a1a" textLength="11.5" lengthAdjust="spacingAndGlyphs">=</text>
<text x="570.90" y="143.60" font-size="14.2" font-family='"Liberation Sans", sans-serif' fill="#1a1a1a" textLength="8.2" lengthAdjust="spacingAndGlyphs">8</text>
<line x1="470.90" y1="158.95" x2="500.60" y2="158.95" stroke="#8c564b" stroke-width="2.1"/>
<text x="511.80" y="164.60" font-size="14.2" font-family='"Liberation Sans", sans-serif' fill="#1a1a1a" textLength="31.0" lengthAdjust="spacingAndGlyphs">ROM</text>
<text x="547.80" y="164.60" font-size="14.2" font-family='"Liberation Sans", sans-serif' fill="#1a1a1a" font-style="italic">r</text>
<text x="556.90" y="164.60" font-size="14.2" font-family='"Liberation Sans", sans-serif' fill="#1a1a1a" textLength="11.5" lengthAdjust="spacingAndGlyphs">=</text>
<text x="571.20" y="164.60" font-size="14.2" font-family='"Liberation Sans", sans-serif' fill="#1a1a1a" textLength="17.0" lengthAdjust="spacingAndGlyphs">10</text>
<rect x="84.55" y="408.7" width="128.8" height="129.6" rx="3.5" ry="3.5" fill="#fff" fill-opacity="0.8" stroke="#cccccc" stroke-opacity="0.8" stroke-width="1.1"/>
<line x1="88.85" y1="420.00" x2="118.55" y2="420.00" stroke="#1f77b4" stroke-width="2.1"/>
<text x="128.75" y="425.65" font-size="14.2" font-family='"Liberation Sans", sans-serif' fill="#1a1a1a" textLength="29.5" lengthAdjust="spacingAndGlyphs">FOM</text>
<line x1="88.85" y1="441.00" x2="118.55" y2="441.00" stroke="#ff7f0e" stroke-width="2.1"/>
<text x="129.75" y="446.65" font-size="14.2" font-family='"Liberation Sans", sans-serif' fill="#1a1a1a" textLength="31.0" lengthAdjust="spacingAndGlyphs">ROM</text>
<text x="165.75" y="446.65" font-size="14.2" font-family='"Liberation Sans", sans-serif' fill="#1a1a1a" font-style="italic">r</text>
<text x="174.85" y="446.65" font-size="14.2" font-family='"Liberation Sans", sans-serif' fill="#1a1a1a" textLength="11.5" lengthAdjust="spacingAndGlyphs">=</text>
<text x="188.85" y="446.65" font-size="14.2" font-family='"Liberation Sans", sans-serif' fill="#1a1a1a" textLength="8.2" lengthAdjust="spacingAndGlyphs">2</text>
<line x1="88.85" y1="462.00" x2="118.55" y2="462.00" stroke="#2ca02c" stroke-width="2.1"/>
<text x="129.75" y="467.65" font-size="14.2" font-family='"Liberation Sans", sans-serif' fill="#1a1a1a" textLength="31.0" lengthAdjust="spacingAndGlyphs">ROM</text>
<text x="165.75" y="467.65" font-size="14.2" font-family='"Liberation Sans", sans-serif' fill="#1a1a1a" font-style="italic">r</text>
<text x="174.85" y="467.65" font-size="14.2" font-family='"Liberation Sans", sans-serif' fill="#1a1a1a" textLength="11.5" lengthAdjust="spacingAndGlyphs">=</text>
<text x="188.85" y="467.65" font-size="14.2" font-family='"Liberation Sans", sans-serif' fill="#1a1a1a" textLength="8.2" lengthAdjust="spacingAndGlyphs">4</text>
<line x1="88.85" y1="483.00" x2="118.55" y2="483.00" stroke="#d62728" stroke-width="2.1"/>
<text x="129.75" y="488.65" font-size="14.2" font-family='"Liberation Sans", sans-serif' fill="#1a1a1a" textLength="31.0" lengthAdjust="spacingAndGlyphs">ROM</text>
<text x="165.75" y="488.65" font-size="14.2" font-family='"Liberation Sans", sans-serif' fill="#1a1a1a" font-style="italic">r</text>
<text x="174.85" y="488.65" font-size="14.2" font-family='"Liberation Sans", sans-serif' fill="#1a1a1a" textLength="11.5" lengthAdjust="spacingAndGlyphs">=</text>
<text x="188.85" y="488.65" font-size="14.2" font-family='"Liberation Sans", sans-serif' fill="#1a1a1a" textLength="8.2" lengthAdjust="spacingAndGlyphs">6</text>
<line x1="88.85" y1="504.00" x2="118.55" y2="504.00" stroke="#9467bd" stroke-width="2.1"/>
<text x="129.75" y="509.65" font-size="14.2" font-family='"Liberation Sans", sans-serif' fill="#1a1a1a" textLength="31.0" lengthAdjust="spacingAndGlyphs">ROM</text>
<text x="165.75" y="509.65" font-size="14.2" font-family='"Liberation Sans", sans-serif' fill="#1a1a1a" font-style="italic">r</text>
<text x="174.85" y="509.65" font-size="14.2" font-family='"Liberation Sans", sans-serif' fill="#1a1a1a" textLength="11.5" lengthAdjust="spacingAndGlyphs">=</text>
<text x="188.85" y="509.65" font-size="14.2" font-family='"Liberation Sans", sans-serif' fill="#1a1a1a" textLength="8.2" lengthAdjust="spacingAndGlyphs">8</text>
<line x1="88.85" y1="525.00" x2="118.55" y2="525.00" stroke="#8c564b" stroke-width="2.1"/>
<text x="129.75" y="530.65" font-size="14.2" font-family='"Liberation Sans", sans-serif' fill="#1a1a1a" textLength="31.0" lengthAdjust="spacingAndGlyphs">ROM</text>
<text x="165.75" y="530.65" font-size="14.2" font-family='"Liberation Sans", sans-serif' fill="#1a1a1a" font-style="italic">r</text>
<text x="174.85" y="530.65" font-size="14.2" font-family='"Liberation Sans", sans-serif' fill="#1a1a1a" textLength="11.5" lengthAdjust="spacingAndGlyphs">=</text>
<text x="189.15" y="530.65" font-size="14.2" font-family='"Liberation Sans", sans-serif' fill="#1a1a1a" textLength="17.0" lengthAdjust="spacingAndGlyphs">10</text>
<rect x="77" y="36" width="526" height="352" fill="none" stroke="#000" stroke-width="1.8"/>
<rect x="77" y="401" width="526" height="353" fill="none" stroke="#000" stroke-width="1.8"/>
</svg></body></html>
